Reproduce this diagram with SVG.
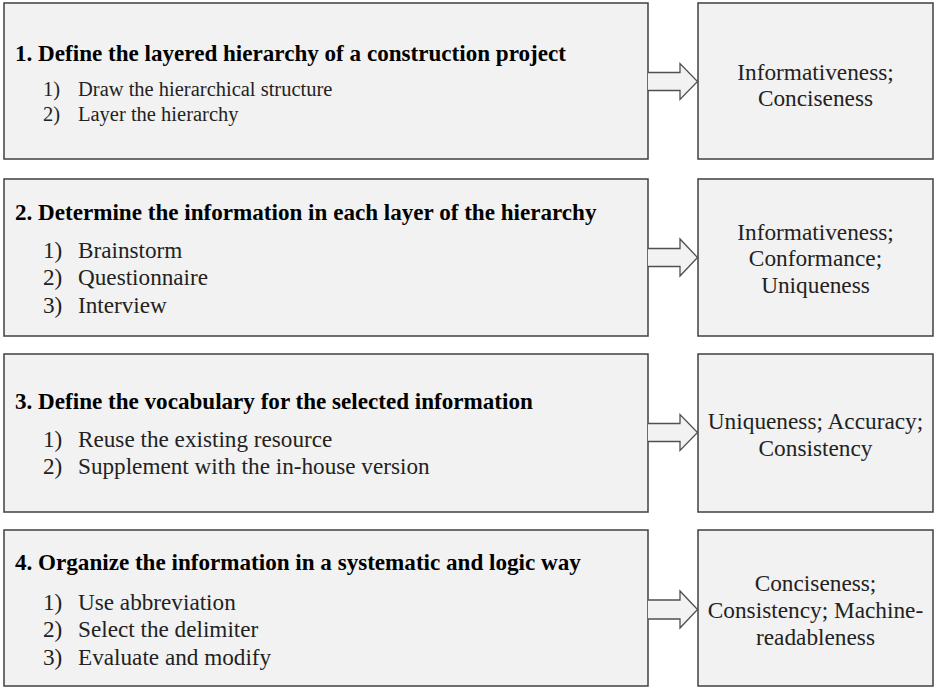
<svg xmlns="http://www.w3.org/2000/svg" width="939" height="691" viewBox="0 0 939 691">
  <style>
    .box { fill: #f2f2f2; stroke: #404040; stroke-width: 1.5; }
    .arrow { fill: #f2f2f2; stroke: #505050; stroke-width: 1.3; stroke-linejoin: miter; }
    .title { font-family: "Liberation Serif", "Times New Roman", serif; font-weight: bold; font-size: 23.1px; fill: #000; }
    .item { font-family: "Liberation Serif", "Times New Roman", serif; font-size: 23.2px; fill: #222; }
    .item.small { font-size: 20.5px; }
    .res { font-family: "Liberation Serif", "Times New Roman", serif; font-size: 23.3px; fill: #222; text-anchor: middle; }
  </style>
  <rect width="939" height="691" fill="#ffffff"/>

  <g id="step1">
    <rect class="box" x="4" y="3" width="644" height="156"/>
    <text class="title" x="15" y="61">1. Define the layered hierarchy of a construction project</text>
    <text class="item small" x="43" y="96">1)</text>
    <text class="item small" x="78" y="96">Draw the hierarchical structure</text>
    <text class="item small" x="43" y="121">2)</text>
    <text class="item small" x="78" y="121">Layer the hierarchy</text>
  </g>
  <g id="result1">
    <rect class="box" x="698" y="3" width="235" height="156"/>
    <text class="res" x="815.5" y="80">Informativeness;</text>
    <text class="res" x="815.5" y="106">Conciseness</text>
  </g>

  <g id="step2">
    <rect class="box" x="4" y="179" width="644" height="157"/>
    <text class="title" x="15" y="219.5">2. Determine the information in each layer of the hierarchy</text>
    <text class="item" x="43" y="257.5">1)</text>
    <text class="item" x="78" y="257.5">Brainstorm</text>
    <text class="item" x="43" y="285">2)</text>
    <text class="item" x="78" y="285">Questionnaire</text>
    <text class="item" x="43" y="312.5">3)</text>
    <text class="item" x="78" y="312.5">Interview</text>
  </g>
  <g id="result2">
    <rect class="box" x="698" y="179" width="235" height="157"/>
    <text class="res" x="815.5" y="239.5">Informativeness;</text>
    <text class="res" x="815.5" y="266">Conformance;</text>
    <text class="res" x="815.5" y="292.5">Uniqueness</text>
  </g>

  <g id="step3">
    <rect class="box" x="4" y="354" width="644" height="158"/>
    <text class="title" x="15" y="409">3. Define the vocabulary for the selected information</text>
    <text class="item" x="43" y="447">1)</text>
    <text class="item" x="78" y="447">Reuse the existing resource</text>
    <text class="item" x="43" y="474">2)</text>
    <text class="item" x="78" y="474">Supplement with the in-house version</text>
  </g>
  <g id="result3">
    <rect class="box" x="698" y="354" width="235" height="158"/>
    <text class="res" x="815.5" y="428.5">Uniqueness; Accuracy;</text>
    <text class="res" x="815.5" y="455.5">Consistency</text>
  </g>

  <g id="step4">
    <rect class="box" x="4" y="530" width="644" height="156"/>
    <text class="title" x="15" y="570">4. Organize the information in a systematic and logic way</text>
    <text class="item" x="43" y="609.5">1)</text>
    <text class="item" x="78" y="609.5">Use abbreviation</text>
    <text class="item" x="43" y="637">2)</text>
    <text class="item" x="78" y="637">Select the delimiter</text>
    <text class="item" x="43" y="665">3)</text>
    <text class="item" x="78" y="665">Evaluate and modify</text>
  </g>
  <g id="result4">
    <rect class="box" x="698" y="530" width="235" height="156"/>
    <text class="res" x="815.5" y="591">Conciseness;</text>
    <text class="res" x="815.5" y="617.5">Consistency; Machine-</text>
    <text class="res" x="815.5" y="644.5">readableness</text>
  </g>

  <g id="connectors">
    <path class="arrow" d="M648,72.5 H680 V63.5 L697.5,81.5 L680,99.5 V90.5 H648"/>
    <path class="arrow" d="M648,248.5 H680 V239 L697.5,257.5 L680,276 V266.5 H648"/>
    <path class="arrow" d="M648,423.5 H680 V414.5 L697.5,432.5 L680,450.5 V441.5 H648"/>
    <path class="arrow" d="M648,600 H680 V591 L697.5,609.5 L680,628 V619 H648"/>
  </g>
</svg>
